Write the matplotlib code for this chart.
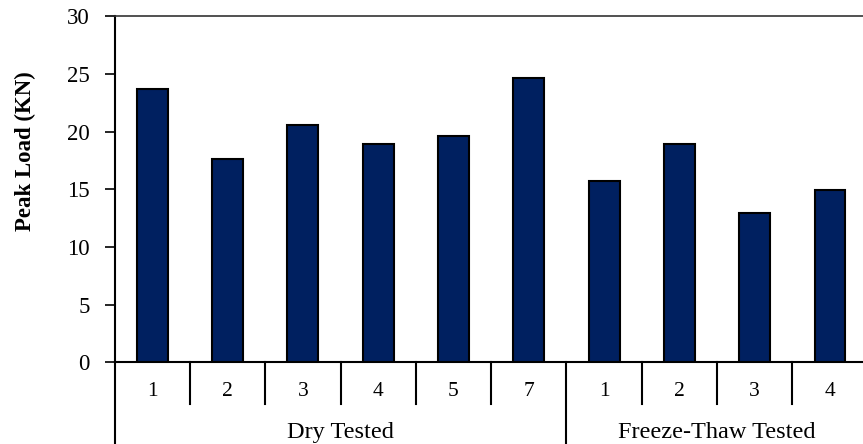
import matplotlib
matplotlib.use("Agg")
import matplotlib.pyplot as plt

categories = ["1", "2", "3", "4", "5", "7", "1", "2", "3", "4"]
groups = ["Dry Tested", "Freeze-Thaw Tested"]
group_sizes = [6, 4]
peak_load = [23.7, 17.6, 20.6, 18.9, 19.6, 24.6, 15.7, 18.9, 12.9, 14.9]
y_ticks = [0, 5, 10, 15, 20, 25, 30]

plt.rcParams['font.family'] = ['Liberation Serif', 'DejaVu Serif']

fig = plt.figure(figsize=(8.63, 4.44), dpi=100)
ax = fig.add_axes([0.1329, 0.184, 0.8725, 0.7797])

x = list(range(len(peak_load)))
ax.bar(x, peak_load, width=0.41, color='#002060', edgecolor='black', linewidth=1.5, zorder=3)

ax.set_xlim(-0.5, len(peak_load) - 0.5)
ax.set_ylim(0, 30)
ax.set_yticks(y_ticks)
ax.tick_params(axis='y', direction='out', length=7, width=1.2, labelsize=16.5, pad=11)
ax.set_xticks([])

ax.spines['right'].set_visible(False)
ax.spines['left'].set_linewidth(1.5)
ax.spines['bottom'].set_linewidth(1.5)
ax.spines['top'].set_linewidth(1.2)
ax.spines['top'].set_color('#333333')

fig.text(25 / 863, 1 - 151 / 444, "Peak Load (KN)", rotation=90, ha='center', va='center',
         fontsize=16.5, fontweight='bold')

trans = ax.get_xaxis_transform()
ax_h_px = 346.2
short = 42 / ax_h_px
long_ = 82 / ax_h_px

# category labels
for i, c in enumerate(categories):
    ax.text(i, -29 / ax_h_px, c, transform=trans, ha='center', va='center', fontsize=15.5)

# dividers
boundaries = [-0.5]
acc = -0.5
for g in group_sizes:
    acc += g
    boundaries.append(acc)
for i in range(1, len(categories)):
    b = i - 0.5
    length = long_ if b in boundaries else short
    ax.plot([b, b], [0, -length], transform=trans, color='black', lw=1.5, clip_on=False)
ax.plot([-0.5, -0.5], [0, -long_], transform=trans, color='black', lw=1.5, clip_on=False)

# group labels
start = -0.5
for g, n in zip(groups, group_sizes):
    center = start + n / 2
    ax.text(center, -70 / ax_h_px, g, transform=trans, ha='center', va='center', fontsize=17.5)
    start += n

fig.savefig("out.png", dpi=100)
